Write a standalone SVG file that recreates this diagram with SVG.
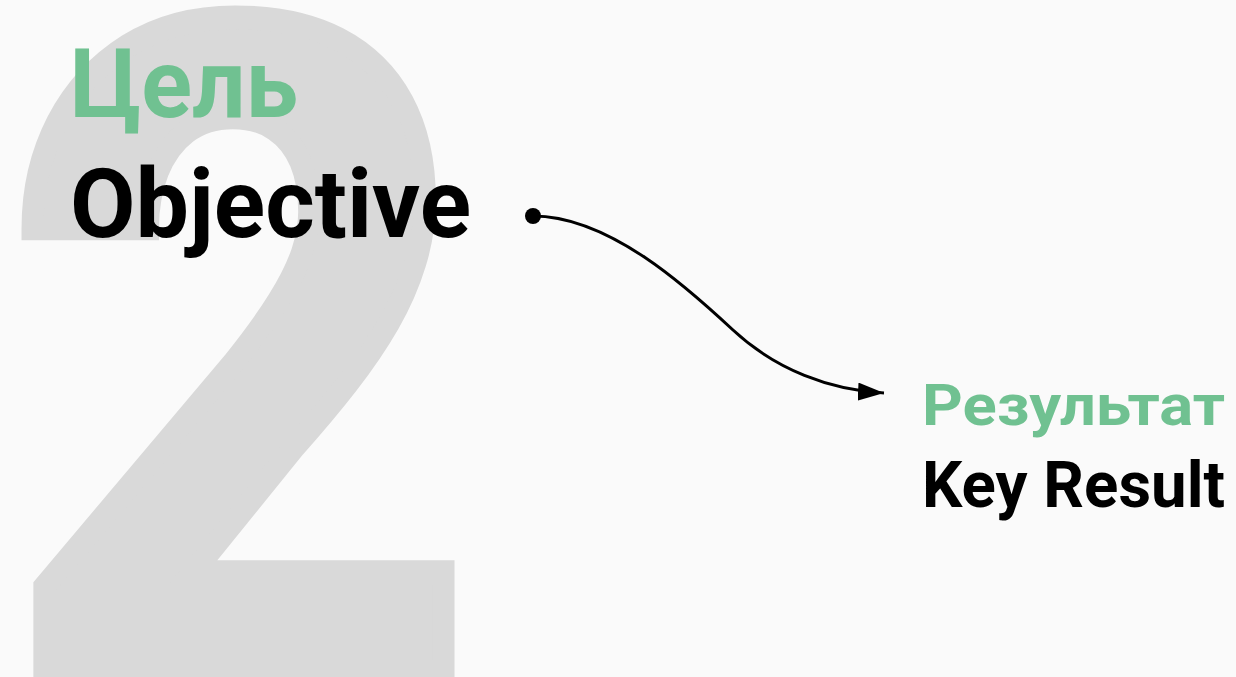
<svg xmlns="http://www.w3.org/2000/svg" width="1236" height="677" viewBox="0 0 1236 677">
<style>
.bg{fill:#fafafa}
.big{font-family:Roboto,"Liberation Sans",sans-serif;font-weight:700;fill:#d9d9d9;stroke:#d9d9d9;stroke-width:24;stroke-linejoin:miter;stroke-miterlimit:10}
.r{font-family:Roboto,"Liberation Sans",sans-serif;font-weight:700}
.g{fill:#70c191}
.k{fill:#000}
.conn{fill:none;stroke:#000;stroke-width:3}
</style>
<defs>
<marker id="arr" viewBox="0 0 26 18" refX="26" refY="9" markerWidth="26" markerHeight="18" markerUnits="userSpaceOnUse" orient="auto">
<path d="M0,0 L26,9 L0,18 Z" fill="#000"/>
</marker>
</defs>
<rect class="bg" x="0" y="0" width="1236" height="677"/>
<text class="big" transform="matrix(0.905 0 0 1 3.9 0)" x="0" y="672" font-size="908">2</text>
<g id="objective">
<text class="r g" x="70" y="117" font-size="97" textLength="228" lengthAdjust="spacingAndGlyphs">Цель</text>
<text class="r k" x="70" y="237" font-size="97" textLength="401" lengthAdjust="spacingAndGlyphs">Objective</text>
</g>
<g id="keyresult">
<text class="r g" x="922" y="425" font-size="57" textLength="303" lengthAdjust="spacingAndGlyphs">Результат</text>
<text class="r k" x="922" y="507" font-size="65" textLength="303" lengthAdjust="spacingAndGlyphs">Key Result</text>
</g>
<g id="connectors">
<circle cx="533" cy="216" r="8" fill="#000"/>
<path class="conn" d="M533,216 C610,216 690,290 733,330 C776,370 830,390 884,393" marker-end="url(#arr)"/>
</g>
</svg>
